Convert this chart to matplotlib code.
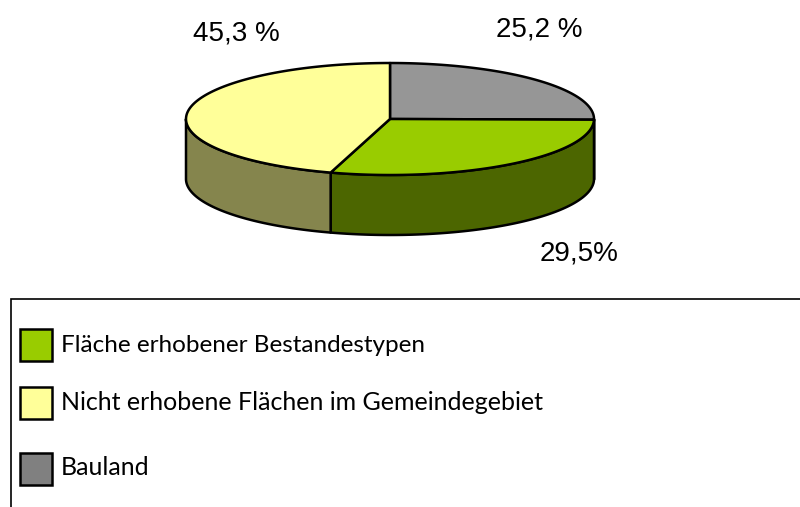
import matplotlib
matplotlib.use('Agg')
import matplotlib.pyplot as plt
from matplotlib.patches import Polygon, Rectangle
import numpy as np

# Data, clockwise from the top of the pie
categories = ['Bauland', 'Fläche erhobener Bestandestypen', 'Nicht erhobene Flächen im Gemeindegebiet']
values = [25.2, 29.5, 45.3]
value_labels = ['25,2 %', '29,5%', '45,3 %']
top_colors = ['#969696', '#99CC00', '#FFFF99']
side_colors = ['#4B4B4B', '#4C6600', '#85854D']
legend_order = [1, 2, 0]
legend_colors = ['#99CC00', '#FFFF99', '#808080']

# Layout in pixels
W, H = 800, 507
cx, cy, rx, ry, depth = 390, 119, 204, 56, 60
label_pos = [(539, 29), (579, 253), (236, 33)]
legend_y = [345, 403, 469]
legend_base = [352, 410, 475]
legend_size = [17.5, 18, 18]

fig = plt.figure(figsize=(W / 100, H / 100), dpi=100)
ax = fig.add_axes([0, 0, 1, 1])
ax.set_xlim(0, W)
ax.set_ylim(H, 0)
ax.axis('off')


def arc(a1, a2, dy=0):
    t = np.radians(np.linspace(a1, a2, 120))
    return np.column_stack([cx + rx * np.cos(t), cy - ry * np.sin(t) + dy])


# Slice angles come from the values
start = 90.0
angles = []
for v in values:
    end = start - v * 3.6
    angles.append((start, end))
    start = end

# Side walls: only the front half of the rim is visible
for (a1, a2), col in zip(angles, side_colors):
    lo, hi = max(a2, -180), min(a1, 0)
    if lo < hi:
        pts = np.vstack([arc(hi, lo), arc(lo, hi, depth)])
        ax.add_patch(Polygon(pts, closed=True, fc=col, ec='black', lw=1.8, joinstyle='round'))

# Top faces
for (a1, a2), col in zip(angles, top_colors):
    pts = np.vstack([[cx, cy], arc(a1, a2)])
    ax.add_patch(Polygon(pts, closed=True, fc=col, ec='black', lw=1.8, joinstyle='round'))

for txt, (x, y) in zip(value_labels, label_pos):
    ax.text(x, y, txt, fontsize=20, family='Liberation Sans', ha='center', va='center', color='black')

# Legend frame runs off the right and bottom edges
ax.plot([10.5, 10.5, W], [H, 298.5, 298.5], color='black', lw=1.2, solid_joinstyle='miter')
for pos, i in enumerate(legend_order):
    y = legend_y[pos]
    ax.add_patch(Rectangle((19.5, y - 16), 32, 32, fc=legend_colors[pos], ec='black', lw=1.8))
    ax.text(61, legend_base[pos], categories[i], fontsize=legend_size[pos], family='Lato',
            ha='left', va='baseline', color='black')

fig.savefig('out.png', dpi=100)
